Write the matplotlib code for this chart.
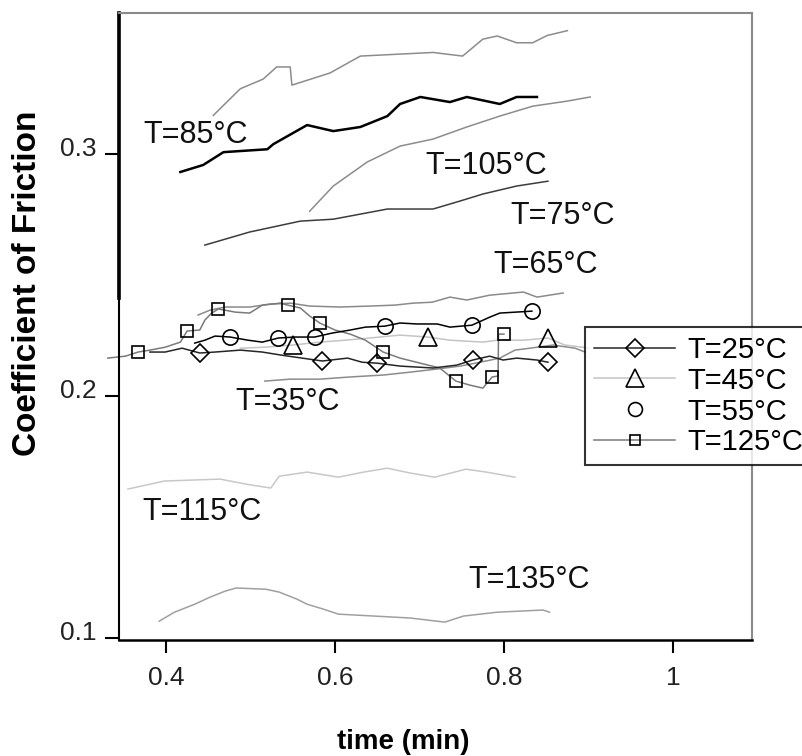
import matplotlib
matplotlib.use("Agg")
import matplotlib.pyplot as plt
import matplotlib.transforms as mtransforms
from matplotlib.lines import Line2D

plt.rcParams['font.family'] = ['Liberation Sans', 'DejaVu Sans']

# --- data (time in min, coefficient of friction) ---
t_top = [0.456, 0.488, 0.515, 0.531, 0.547, 0.549, 0.594, 0.630, 0.716, 0.751, 0.775, 0.792, 0.815, 0.834, 0.851, 0.875]
cof_top = [0.316, 0.327, 0.331, 0.336, 0.336, 0.3285, 0.3335, 0.3405, 0.342, 0.3405, 0.3475, 0.3488, 0.346, 0.346, 0.349, 0.351]

t_85 = [0.417, 0.444, 0.468, 0.520, 0.527, 0.567, 0.598, 0.630, 0.662, 0.677, 0.701, 0.736, 0.756, 0.795, 0.815, 0.839]
cof_85 = [0.2926, 0.2955, 0.3008, 0.302, 0.3041, 0.312, 0.3095, 0.3112, 0.3157, 0.3207, 0.3236, 0.3215, 0.3236, 0.3207, 0.3236, 0.3236]

t_105 = [0.570, 0.598, 0.638, 0.677, 0.716, 0.756, 0.795, 0.834, 0.875, 0.902]
cof_105 = [0.2764, 0.2868, 0.2967, 0.3033, 0.3062, 0.3112, 0.3157, 0.3198, 0.3219, 0.3236]

t_75 = [0.446, 0.499, 0.559, 0.598, 0.662, 0.716, 0.748, 0.775, 0.815, 0.852]
cof_75 = [0.2624, 0.2678, 0.2723, 0.2731, 0.2773, 0.2773, 0.2806, 0.2835, 0.2868, 0.2888]

t_65 = [0.438, 0.452, 0.470, 0.499, 0.523, 0.547, 0.570, 0.606, 0.641, 0.671, 0.692, 0.715, 0.736, 0.756, 0.783, 0.823, 0.839, 0.870]
cof_65 = [0.2335, 0.2355, 0.2368, 0.2368, 0.238, 0.2384, 0.2372, 0.2368, 0.2372, 0.2376, 0.2384, 0.2388, 0.2409, 0.2397, 0.2417, 0.243, 0.2409, 0.2426]

t_55 = [0.434, 0.446, 0.458, 0.476, 0.497, 0.514, 0.533, 0.553, 0.576, 0.596, 0.618, 0.636, 0.659, 0.677, 0.697, 0.721, 0.736, 0.762, 0.783, 0.795, 0.814, 0.833]
cof_55 = [0.2219, 0.2231, 0.2248, 0.2244, 0.2231, 0.2223, 0.224, 0.2244, 0.2244, 0.226, 0.2273, 0.2285, 0.2289, 0.2302, 0.2298, 0.2298, 0.2285, 0.2293, 0.2326, 0.2343, 0.2347, 0.2351]
mark_55 = [3, 6, 8, 12, 17, 21]

t_25 = [0.381, 0.399, 0.419, 0.440, 0.458, 0.488, 0.514, 0.537, 0.561, 0.585, 0.615, 0.632, 0.650, 0.677, 0.716, 0.744, 0.763, 0.783, 0.799, 0.815, 0.839, 0.852]
cof_25 = [0.2182, 0.2182, 0.2198, 0.2178, 0.2182, 0.219, 0.2182, 0.2169, 0.2157, 0.2145, 0.2157, 0.214, 0.2136, 0.2124, 0.2116, 0.2128, 0.2149, 0.2165, 0.2149, 0.2157, 0.2149, 0.214]
mark_25 = [3, 9, 12, 16, 21]

t_45 = [0.488, 0.517, 0.550, 0.582, 0.612, 0.641, 0.677, 0.710, 0.736, 0.775, 0.792, 0.823, 0.852, 0.872, 0.902]
cof_45 = [0.2198, 0.2202, 0.2211, 0.2223, 0.2231, 0.224, 0.2252, 0.2244, 0.2231, 0.2223, 0.2231, 0.2231, 0.224, 0.2211, 0.2198]
mark_45 = [2, 7, 12]

t_125 = [0.331, 0.352, 0.367, 0.381, 0.399, 0.417, 0.425, 0.440, 0.446, 0.454, 0.462, 0.482, 0.499,
         0.514, 0.535, 0.544, 0.559, 0.570, 0.582, 0.600, 0.618, 0.636, 0.657, 0.677, 0.701, 0.724,
         0.743, 0.760, 0.775, 0.786, 0.793, 0.7935, 0.800]
cof_125 = [0.2157, 0.2165, 0.2182, 0.219, 0.2202, 0.2223, 0.2269, 0.2273, 0.2314, 0.2343, 0.236, 0.2347, 0.2343,
           0.2376, 0.2384, 0.2376, 0.2364, 0.2331, 0.2302, 0.2273, 0.2256, 0.2231, 0.2182, 0.2157, 0.2136, 0.2116,
           0.2062, 0.2045, 0.2033, 0.2079, 0.2083, 0.2256, 0.2256]
mark_125 = [2, 6, 10, 15, 18, 22, 26, 29, 32]

t_35 = [0.517, 0.547, 0.582, 0.618, 0.657, 0.689, 0.721, 0.748, 0.772, 0.795, 0.813, 0.831, 0.858, 0.884, 0.896]
cof_35 = [0.2062, 0.207, 0.207, 0.2079, 0.2087, 0.2099, 0.2112, 0.2124, 0.214, 0.2157, 0.219, 0.2198, 0.2211, 0.2198, 0.2182]

t_115 = [0.355, 0.398, 0.464, 0.495, 0.524, 0.534, 0.567, 0.604, 0.634, 0.662, 0.689, 0.718, 0.755, 0.779, 0.813]
cof_115 = [0.1616, 0.1649, 0.1657, 0.1636, 0.162, 0.1669, 0.1686, 0.1665, 0.1686, 0.1702, 0.1682, 0.1665, 0.1698, 0.1686, 0.1665]

t_135 = [0.392, 0.410, 0.434, 0.452, 0.470, 0.483, 0.518, 0.534, 0.555, 0.567, 0.586, 0.604, 0.689, 0.730, 0.752, 0.792, 0.846, 0.854]
cof_135 = [0.107, 0.1107, 0.114, 0.1169, 0.1194, 0.1207, 0.1202, 0.119, 0.1161, 0.114, 0.112, 0.1099, 0.1083, 0.1066, 0.1091, 0.1107, 0.1116, 0.1107]

labels_txt = ['T=85°C', 'T=105°C', 'T=75°C', 'T=65°C', 'T=35°C', 'T=115°C', 'T=135°C']
labels_x = [0.373, 0.7065, 0.807, 0.787, 0.482, 0.3716, 0.7574]
labels_y = [0.3079, 0.295, 0.2744, 0.2541, 0.1975, 0.152, 0.124]

fig = plt.figure(figsize=(8.03, 7.56), dpi=100)
ax = fig.add_axes([0.1482, 0.1534, 0.7883, 0.8294])

kw = dict(lw=1.1, clip_on=False)
ax.plot(t_top, cof_top, color='#8c8c8c', **kw)
ax.plot(t_85, cof_85, color='black', lw=1.8)
ax.plot(t_105, cof_105, color='#8c8c8c', **kw)
ax.plot(t_75, cof_75, color='#3c3c3c', **kw)
ax.plot(t_65, cof_65, color='#8a8a8a', **kw)
ax.plot(t_115, cof_115, color='#c8c8c8', **kw)
ax.plot(t_135, cof_135, color='#a0a0a0', **kw)
ax.plot(t_35, cof_35, color='#8c8c8c', **kw)

mk = dict(mfc='none', mec='black', mew=1.2)
ax.plot(t_45, cof_45, color='#c4c4c4', marker='^', ms=13, markevery=mark_45, **mk, **kw)
ax.plot(t_125, cof_125, color='#7a7a7a', marker='s', ms=8, markevery=mark_125, **mk, **kw)
ax.plot(t_25, cof_25, color='#262626', marker='D', ms=9, markevery=mark_25, **mk, **kw)
ax.plot(t_55, cof_55, color='black', marker='o', ms=11, markevery=mark_55, **mk, **kw)

for s, x, y in zip(labels_txt, labels_x, labels_y):
    ax.text(x, y, s, fontsize=22, va='center', ha='left', color='#111111')

ax.set_xlim(0.3444, 1.0935)
ax.set_ylim(0.0992, 0.3583)
ax.set_xticks([0.4, 0.6, 0.8, 1.0])
ax.set_xticklabels(['0.4', '0.6', '0.8', '1'], fontsize=19)
ax.set_yticks([0.1, 0.2, 0.3])
ax.set_yticklabels(['0.1', '0.2', '0.3'], fontsize=19)
ax.tick_params(axis='x', direction='out', length=9.5, width=1.5, pad=9, colors='black')
ax.tick_params(axis='y', direction='out', length=10, width=1.5, pad=6, colors='black')
off = mtransforms.ScaledTranslation(0, 0.08, fig.dpi_scale_trans)
for lab in ax.get_yticklabels():
    lab.set_transform(lab.get_transform() + off)
    lab.set_color('#222222')
for lab in ax.get_xticklabels():
    lab.set_color('#222222')

ax.spines['top'].set_color('#8a8a8a')
ax.spines['right'].set_color('#8a8a8a')
ax.spines['top'].set_linewidth(1.5)
ax.spines['right'].set_linewidth(1.5)
ax.spines['left'].set_linewidth(1.5)
ax.spines['bottom'].set_linewidth(1.8)
# thicker upper part of the left axis line
ax.add_line(Line2D([0, 0], [0.545, 1.0], transform=ax.transAxes, color='black', lw=2.6, clip_on=False))

ax.set_xlabel('time (min)', fontsize=20, fontweight='bold', va='center')
ax.xaxis.set_label_coords(0.4487, -0.1627)
ax.set_ylabel('Coefficient of Friction', fontsize=24, fontweight='bold', va='center')
ax.yaxis.set_label_coords(-0.1453, 0.5694)

handles = [
    Line2D([], [], color='#262626', lw=1.1, marker='D', ms=9, **mk),
    Line2D([], [], color='#c4c4c4', lw=1.1, marker='^', ms=13, **mk),
    Line2D([], [], color='none', lw=0, marker='o', ms=10, **mk),
    Line2D([], [], color='#7a7a7a', lw=1.1, marker='s', ms=7, **mk),
]
leg = fig.legend(handles, ['T=25°C', 'T=45°C', 'T=55°C', 'T=125°C'],
                 loc='upper left', bbox_to_anchor=(585 / 803, 1 - 327 / 756),
                 fontsize=21, frameon=True, fancybox=False, borderaxespad=0,
                 handlelength=2.8, handletextpad=0.4, labelspacing=0.1, borderpad=0.3)
leg.get_frame().set_edgecolor('black')
leg.get_frame().set_linewidth(1.5)

fig.savefig('out.png', dpi=100)
